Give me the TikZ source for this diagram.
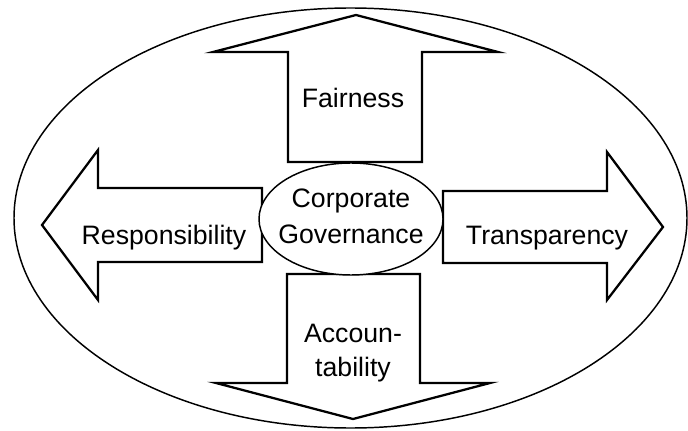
\documentclass[tikz,border=0pt]{standalone}
\usepackage{fontspec}
\setmainfont{Liberation Sans}
\usetikzlibrary{shapes.geometric}
\begin{document}
\begin{tikzpicture}[x=0.75pt,y=0.75pt,yscale=-1,xscale=1]
\tikzset{
  bigarrow/.style={draw=black,fill=white,line width=1.7pt,line join=miter},
  label/.style={inner sep=0.75pt,align=center,font=\fontsize{20}{25}\selectfont}
}
\useasboundingbox (0,0) rectangle (688,431);

%Shape: Ellipse [id:outer]
\draw [line width=1.1pt] (350.5,218) ellipse [x radius=336.5, y radius=210];

%Shape: Up Arrow [id:fair]
\draw [bigarrow] (288,162) -- (288,52) -- (213,52) -- (356,15) -- (498,52) -- (422,52) -- (422,162) -- cycle ;
%Shape: Down Arrow [id:acc]
\draw [bigarrow] (287,274) -- (420,274) -- (420,383) -- (490,383) -- (353,419) -- (216,383) -- (287,383) -- cycle ;
%Shape: Left Arrow [id:resp]
\draw [bigarrow] (262,188) -- (98,188) -- (98,150) -- (42,225) -- (98,300) -- (98,262) -- (262,262) -- cycle ;
%Shape: Right Arrow [id:trans]
\draw [bigarrow] (443,191) -- (607,191) -- (607,152) -- (663,227) -- (607,300) -- (607,263) -- (443,263) -- cycle ;

% Ellipse Node
\node (cg) [ellipse,draw,fill=white,line width=1.1pt,minimum width=138pt,minimum height=84pt,inner sep=0pt,align=center,font=\fontsize{20}{27}\selectfont] at (351,219) {};
% Text Node
\node (cgtext) [label,font=\fontsize{20}{27}\selectfont] at (351,216) {Corporate\\Governance};
% Text Node
\node (fairness) [label,anchor=base] at (353,108) {Fairness};
% Text Node
\node (accountability) [label] at (353,353) {Accoun-\\tability};
% Text Node
\node (responsibility) [label,anchor=base] at (164,244) {Responsibility};
% Text Node
\node (transparency) [label,anchor=base] at (547,244) {Transparency};

\end{tikzpicture}
\end{document}
